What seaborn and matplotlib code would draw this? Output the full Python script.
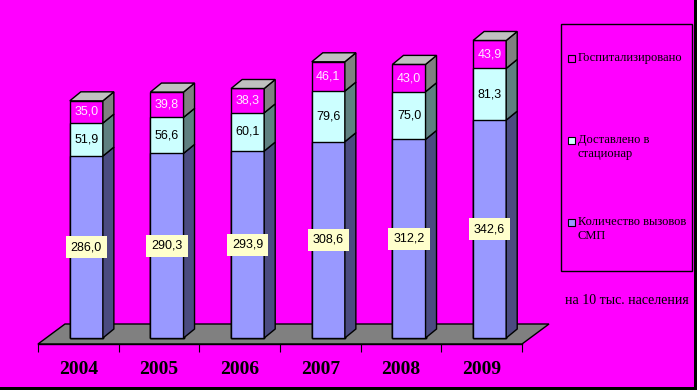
import numpy as np
import pandas as pd
import matplotlib
matplotlib.use("Agg")
import matplotlib.pyplot as plt
import seaborn as sns
from matplotlib.patches import Polygon, Rectangle

# data
years = ["2004", "2005", "2006", "2007", "2008", "2009"]
calls = [286.0, 290.3, 293.9, 308.6, 312.2, 342.6]
delivered = [51.9, 56.6, 60.1, 79.6, 75.0, 81.3]
hospitalized = [35.0, 39.8, 38.3, 46.1, 43.0, 43.9]
legend_labels = ["Госпитализировано", "Доставлено в\nстационар", "Количество вызовов\nСМП"]
note = "на 10 тыс. населения"

W, H = 697, 390
MAG = "#ff00ff"
front = {"calls": "#9999ff", "mid": "#ccffff", "top": MAG}
side_colors = ["#4b4b80", "#5f8080", "#808080"]

df = pd.DataFrame({"year": years, "calls": calls, "delivered": delivered, "hosp": hospitalized})
df["mid"] = df["calls"] + df["delivered"]
df["top"] = df["mid"] + df["hosp"]

fig = plt.figure(figsize=(W / 100, H / 100), dpi=100, facecolor=MAG)
ax = fig.add_axes([38 / W, 1 - 344 / H, 484 / W, 324 / H])
ax.set_facecolor("none")

# stacked bars: totals first, then partial sums on top of them
for col in ["top", "mid", "calls"]:
    sns.barplot(data=df, x="year", y=col, color=front[col], saturation=1, width=0.41,
                edgecolor="black", linewidth=1, errorbar=None, ax=ax, zorder=3)

ymin, ymax = -9.43, 500
ax.set_xlim(-0.5, 5.5)
ax.set_ylim(ymin, ymax)
px_x = 484 / 6
px_y = 324 / (ymax - ymin)
dx, dy = 11 / px_x, 9 / px_y

# bars stand in the middle of the floor depth -> shift right a bit
shift = 8 / px_x
for p in ax.patches:
    p.set_x(p.get_x() + shift)

# floor
fdx, fdy = 27 / px_x, 20 / px_y
ax.add_patch(Polygon([(-0.5, ymin), (5.5, ymin), (5.5 + fdx, ymin + fdy), (-0.5 + fdx, ymin + fdy)],
                     closed=True, fc="#808080", ec="black", lw=1, zorder=1, clip_on=False))

# 3d sides and tops
bars = ax.patches[12:18]
for i, p in enumerate(bars):
    x0 = p.get_x()
    x1 = x0 + p.get_width()
    levels = [0, df["calls"][i], df["mid"][i], df["top"][i]]
    for k in range(3):
        y0, y1 = levels[k], levels[k + 1]
        ax.add_patch(Polygon([(x1, y0), (x1 + dx, y0 + dy), (x1 + dx, y1 + dy), (x1, y1)],
                             closed=True, fc=side_colors[k], ec="black", lw=1, zorder=3))
    t = levels[3]
    ax.add_patch(Polygon([(x0, t), (x0 + dx, t + dy), (x1 + dx, t + dy), (x1, t)],
                         closed=True, fc="#c0c0c0", ec="black", lw=1, zorder=3, clip_on=False))

def fmt(v):
    return f"{v:.1f}".replace(".", ",")

for i in range(len(years)):
    xc = i + shift
    ax.text(xc, calls[i] / 2, fmt(calls[i]), ha="center", va="center", fontsize=9,
            family="Liberation Sans", zorder=5,
            bbox=dict(boxstyle="square,pad=0.4", fc="#ffffcc", ec="none"))
    ax.text(xc, calls[i] + delivered[i] / 2, fmt(delivered[i]), ha="center", va="center",
            fontsize=9, family="Liberation Sans", zorder=5)
    ax.text(xc, df["mid"][i] + hospitalized[i] / 2, fmt(hospitalized[i]), ha="center", va="center",
            fontsize=9, family="Liberation Sans", color="#ffe8ff", zorder=5)

for s in ["top", "left", "right"]:
    ax.spines[s].set_visible(False)
ax.spines["bottom"].set_color("black")
ax.spines["bottom"].set_linewidth(1)
ax.set_yticks([])
ax.set_xticks(np.arange(-0.5, 6.0, 1.0))
ax.set_xticklabels([])
ax.set_xticks(range(6), labels=years, minor=True)
ax.tick_params(axis="x", which="major", length=6, direction="out", color="black")
ax.tick_params(axis="x", which="minor", length=0, pad=12, labelsize=14)
for lab in ax.get_xticklabels(minor=True):
    lab.set_fontfamily("Liberation Serif")
    lab.set_fontweight("bold")
ax.set_xlabel("")
ax.set_ylabel("")

# legend box
fig.add_artist(Rectangle((561 / W, 1 - 271 / H), 131 / W, 247 / H, transform=fig.transFigure,
                         fill=False, ec="black", lw=1))
leg_colors = [MAG, "#ccffff", "#9999ff"]
leg_tops = [55, 137, 219]
for lab, c, yt in zip(legend_labels, leg_colors, leg_tops):
    fig.add_artist(Rectangle((568 / W, 1 - (yt + 7) / H), 7 / W, 7 / H, transform=fig.transFigure,
                             fc=c, ec="black", lw=0.8))
    fig.text(578 / W, 1 - (yt - 3) / H, lab, ha="left", va="top", fontsize=9,
             family="Liberation Serif", linespacing=1.25)
fig.text(627 / W, 1 - 301 / H, note, ha="center", va="center", fontsize=10, family="Liberation Serif")

# black frame on right and bottom
fig.add_artist(Rectangle((694 / W, 0), 3 / W, 1, transform=fig.transFigure, fc="black", ec="none"))
fig.add_artist(Rectangle((0, 0), 1, 3 / H, transform=fig.transFigure, fc="black", ec="none"))

fig.savefig("out.png", dpi=100, facecolor=fig.get_facecolor())
